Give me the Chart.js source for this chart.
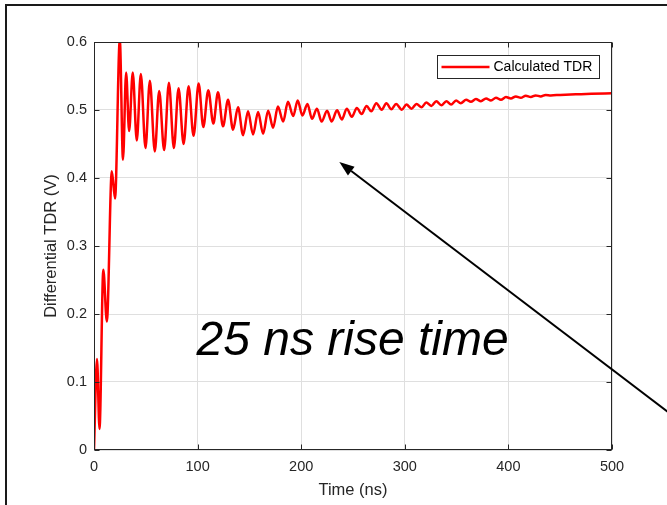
<!DOCTYPE html>
<html>
<head>
<meta charset="utf-8">
<script src="https://cdn.jsdelivr.net/npm/chart.js@4/dist/chart.umd.min.js"></script>
<style>
  body { margin: 0; background: #fff; }
  canvas { display: block; }
</style>
</head>
<body>
<canvas id="tdrChart" width="667" height="505"></canvas>
<script>
// ===============================
// DATA
// ===============================
const timeNs = [
  0, 2.9, 5.3, 9.0, 12.4, 17.2, 20.3, 24.9, 28.0, 31.0,
  33.9, 37.4, 41.3, 45.2, 49.7, 53.9, 58.7, 62.9, 67.7, 72.3,
  77.1, 81.6, 86.5, 91.3, 96.1, 101.0, 105.5, 110.3, 115.2, 119.7,
  124.5, 129.4, 134.2, 139.0, 143.9, 148.7, 153.5, 158.4, 163.2, 168.1,
  172.9, 177.5, 182.6, 187.2, 192.3, 196.6, 201.2, 206.0, 210.4, 215.2,
  219.7, 225.0, 229.4, 234.6, 239.2, 244.0, 248.9, 253.7, 258.3, 263.1,
  267.6, 272.5, 277.7, 282.2, 287.0, 291.6, 297.1, 301.6, 306.5, 311.3,
  316.2, 320.7, 325.6, 330.4, 335.3, 340.1, 344.7, 349.5, 354.0, 359.2,
  363.8, 368.6, 373.5, 378.4, 383.2, 388.0, 392.8, 397.6, 402.4, 407.2,
  412.0, 416.8, 421.6, 426.4, 431.2, 436.0, 441.0, 450, 465, 480,
  500
];
const tdrVolts = [
  0, 0.134, 0.031, 0.265, 0.189, 0.410, 0.370, 0.603, 0.427, 0.555,
  0.469, 0.555, 0.455, 0.553, 0.444, 0.543, 0.439, 0.528, 0.441, 0.540,
  0.444, 0.532, 0.450, 0.535, 0.462, 0.539, 0.475, 0.529, 0.480, 0.526,
  0.476, 0.515, 0.471, 0.504, 0.463, 0.498, 0.464, 0.497, 0.465, 0.499,
  0.474, 0.505, 0.483, 0.512, 0.491, 0.514, 0.492, 0.509, 0.487, 0.502,
  0.483, 0.499, 0.483, 0.4995, 0.486, 0.502, 0.490, 0.503, 0.494, 0.506,
  0.498, 0.510, 0.5005, 0.510, 0.501, 0.509, 0.5005, 0.508, 0.502, 0.509,
  0.504, 0.511, 0.506, 0.513, 0.507, 0.513, 0.508, 0.514, 0.510, 0.515,
  0.512, 0.516, 0.513, 0.517, 0.514, 0.518, 0.515, 0.519, 0.517, 0.520,
  0.518, 0.521, 0.519, 0.5215, 0.520, 0.5222, 0.5215, 0.5222, 0.523, 0.5238,
  0.5245
];
const xTicks = [0, 100, 200, 300, 400, 500];
const yTicks = [0, 0.1, 0.2, 0.3, 0.4, 0.5, 0.6];
const yTickLabels = ['0', '0.1', '0.2', '0.3', '0.4', '0.5', '0.6'];
const seriesLabel = 'Calculated TDR';
const noteText = '25 ns rise time';
const noteAt = [99, 0.140];          // text baseline start, in data units
const arrowFrom = [566, 0.042];      // arrow tail (off the right edge)
const arrowTo = [236.8, 0.4236];     // arrow tip

const FONT = '"Liberation Sans", Arial, Helvetica, sans-serif';
const INK = '#262626';

// ===============================
// MATLAB-LIKE DECORATION
// ===============================
const matlabLook = {
  id: 'matlabLook',
  afterDraw(chart){
    const ctx = chart.ctx;
    const a = chart.chartArea;
    const xs = chart.scales.x, ys = chart.scales.y;
    const L = Math.round(a.left) + 0.5, R = Math.round(a.right) - 0.5;
    const T = Math.round(a.top) + 0.5, B = Math.round(a.bottom) - 0.5;

    ctx.save();
    // axes box
    ctx.strokeStyle = INK;
    ctx.lineWidth = 1;
    ctx.strokeRect(L, T, R - L, B - T);

    // inward ticks on all four sides
    ctx.beginPath();
    xTicks.forEach(v => {
      const px = Math.round(xs.getPixelForValue(v)) + 0.5;
      ctx.moveTo(px, B); ctx.lineTo(px, B - 5);
      ctx.moveTo(px, T); ctx.lineTo(px, T + 5);
    });
    yTicks.forEach(v => {
      const py = Math.round(ys.getPixelForValue(v)) + 0.5;
      ctx.moveTo(L, py); ctx.lineTo(L + 5, py);
      ctx.moveTo(R, py); ctx.lineTo(R - 5, py);
    });
    ctx.stroke();

    // legend box (top right, inside the axes)
    const ds = chart.data.datasets[0];
    const bx = Math.round(a.right) - 174.5, by = Math.round(a.top) + 13.5;
    ctx.fillStyle = '#fff';
    ctx.fillRect(bx, by, 162, 23);
    ctx.strokeStyle = INK;
    ctx.strokeRect(bx, by, 162, 23);
    ctx.strokeStyle = ds.borderColor;
    ctx.lineWidth = 2.5;
    ctx.beginPath();
    ctx.moveTo(bx + 4, by + 11.5); ctx.lineTo(bx + 52, by + 11.5);
    ctx.stroke();
    ctx.fillStyle = '#000';
    ctx.font = '14px ' + FONT;
    ctx.textBaseline = 'middle';
    ctx.textAlign = 'left';
    ctx.fillText(ds.label, bx + 56, by + 12);

    // annotation text
    ctx.font = 'italic 48px ' + FONT;
    ctx.textBaseline = 'alphabetic';
    ctx.fillStyle = '#000';
    ctx.fillText(noteText, xs.getPixelForValue(noteAt[0]), ys.getPixelForValue(noteAt[1]));

    // arrow
    const x0 = xs.getPixelForValue(arrowFrom[0]), y0 = ys.getPixelForValue(arrowFrom[1]);
    const x1 = xs.getPixelForValue(arrowTo[0]), y1 = ys.getPixelForValue(arrowTo[1]);
    const ang = Math.atan2(y1 - y0, x1 - x0);
    const headLen = 15, headW = 5.5;
    const bxh = x1 - headLen * Math.cos(ang), byh = y1 - headLen * Math.sin(ang);
    ctx.strokeStyle = '#000';
    ctx.lineWidth = 2;
    ctx.beginPath();
    ctx.moveTo(x0, y0); ctx.lineTo(bxh, byh);
    ctx.stroke();
    ctx.fillStyle = '#000';
    ctx.beginPath();
    ctx.moveTo(x1, y1);
    ctx.lineTo(bxh + headW * Math.sin(ang), byh - headW * Math.cos(ang));
    ctx.lineTo(bxh - headW * Math.sin(ang), byh + headW * Math.cos(ang));
    ctx.closePath();
    ctx.fill();

    // outer figure frame (top + left edges visible)
    ctx.fillStyle = '#1a1a1a';
    ctx.fillRect(5, 4, chart.width - 5, 2);
    ctx.fillRect(5, 4, 2, chart.height - 4);
    ctx.restore();
  }
};

// ===============================
// CHART
// ===============================
const points = timeNs.map((t, i) => ({ x: t, y: tdrVolts[i] }));

new Chart(document.getElementById('tdrChart').getContext('2d'), {
  type: 'line',
  data: {
    datasets: [{
      label: seriesLabel,
      data: points,
      borderColor: '#ff0000',
      borderWidth: 2.5,
      pointRadius: 0,
      fill: false,
      cubicInterpolationMode: 'monotone'
    }]
  },
  options: {
    responsive: false,
    animation: false,
    devicePixelRatio: 1,
    layout: { padding: { left: 0, right: 55, top: 42, bottom: 0 } },
    plugins: {
      legend: { display: false },
      tooltip: { enabled: false }
    },
    scales: {
      x: {
        type: 'linear',
        min: 0, max: 500,
        afterBuildTicks: s => { s.ticks = xTicks.map(v => ({ value: v })); },
        afterFit: s => { s.height = 55; },
        grid: { color: '#dfdfdf', drawTicks: false },
        border: { display: false },
        ticks: { color: INK, padding: 8, maxRotation: 0, font: { family: FONT, size: 14.5 } },
        title: { display: true, text: 'Time (ns)', color: INK, padding: 5,
                 font: { family: FONT, size: 16.5 } }
      },
      y: {
        type: 'linear',
        min: 0, max: 0.6,
        afterBuildTicks: s => { s.ticks = yTicks.map(v => ({ value: v })); },
        afterFit: s => { s.width = 94; },
        grid: { color: '#dfdfdf', drawTicks: false },
        border: { display: false },
        ticks: {
          color: INK, padding: 7, font: { family: FONT, size: 14.5 },
          callback: (v, i) => yTickLabels[i]
        },
        title: { display: true, text: 'Differential TDR (V)', color: INK, padding: 42,
                 font: { family: FONT, size: 16.5 } }
      }
    }
  },
  plugins: [matlabLook]
});
</script>
</body>
</html>
